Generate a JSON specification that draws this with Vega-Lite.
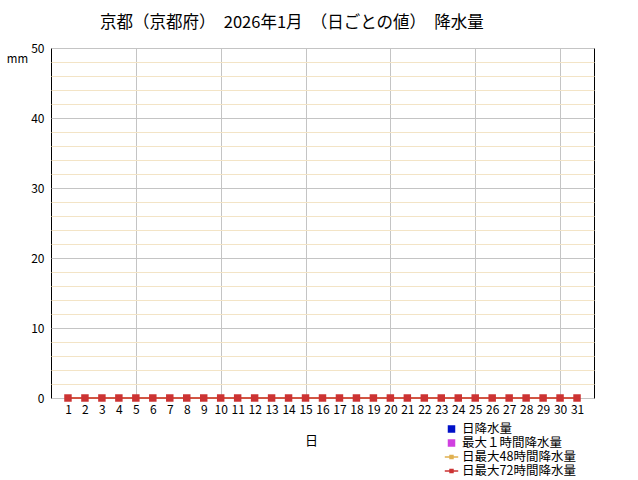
{
  "$schema": "https://vega.github.io/schema/vega-lite/v6.json",
  "width": 543,
  "height": 350,
  "autosize": {"type": "none"},
  "padding": {"left": 51, "top": 48, "right": 44, "bottom": 82},
  "background": "white",
  "config": {
    "font": "Noto Sans CJK JP",
    "view": {"stroke": "black", "strokeWidth": 1},
    "axis": {
      "labelFont": "Noto Sans CJK JP",
      "labelFontSize": 12,
      "labelColor": "black",
      "titleFont": "Noto Sans CJK JP",
      "titleFontSize": 13,
      "titleFontWeight": "normal",
      "titleColor": "black",
      "ticks": false,
      "domain": false
    }
  },
  "title": {
    "text": "京都（京都府）　2026年1月　（日ごとの値）　降水量",
    "frame": "group",
    "anchor": "start",
    "dx": 49,
    "offset": 11,
    "fontSize": 16.5,
    "fontWeight": "normal",
    "font": "Noto Sans CJK JP",
    "color": "black"
  },
  "data": {
    "values": [
      {"day": 1, "series": "日降水量", "value": 0}, {"day": 1, "series": "最大１時間降水量", "value": 0}, {"day": 1, "series": "日最大48時間降水量", "value": 0}, {"day": 1, "series": "日最大72時間降水量", "value": 0},
      {"day": 2, "series": "日降水量", "value": 0}, {"day": 2, "series": "最大１時間降水量", "value": 0}, {"day": 2, "series": "日最大48時間降水量", "value": 0}, {"day": 2, "series": "日最大72時間降水量", "value": 0},
      {"day": 3, "series": "日降水量", "value": 0}, {"day": 3, "series": "最大１時間降水量", "value": 0}, {"day": 3, "series": "日最大48時間降水量", "value": 0}, {"day": 3, "series": "日最大72時間降水量", "value": 0},
      {"day": 4, "series": "日降水量", "value": 0}, {"day": 4, "series": "最大１時間降水量", "value": 0}, {"day": 4, "series": "日最大48時間降水量", "value": 0}, {"day": 4, "series": "日最大72時間降水量", "value": 0},
      {"day": 5, "series": "日降水量", "value": 0}, {"day": 5, "series": "最大１時間降水量", "value": 0}, {"day": 5, "series": "日最大48時間降水量", "value": 0}, {"day": 5, "series": "日最大72時間降水量", "value": 0},
      {"day": 6, "series": "日降水量", "value": 0}, {"day": 6, "series": "最大１時間降水量", "value": 0}, {"day": 6, "series": "日最大48時間降水量", "value": 0}, {"day": 6, "series": "日最大72時間降水量", "value": 0},
      {"day": 7, "series": "日降水量", "value": 0}, {"day": 7, "series": "最大１時間降水量", "value": 0}, {"day": 7, "series": "日最大48時間降水量", "value": 0}, {"day": 7, "series": "日最大72時間降水量", "value": 0},
      {"day": 8, "series": "日降水量", "value": 0}, {"day": 8, "series": "最大１時間降水量", "value": 0}, {"day": 8, "series": "日最大48時間降水量", "value": 0}, {"day": 8, "series": "日最大72時間降水量", "value": 0},
      {"day": 9, "series": "日降水量", "value": 0}, {"day": 9, "series": "最大１時間降水量", "value": 0}, {"day": 9, "series": "日最大48時間降水量", "value": 0}, {"day": 9, "series": "日最大72時間降水量", "value": 0},
      {"day": 10, "series": "日降水量", "value": 0}, {"day": 10, "series": "最大１時間降水量", "value": 0}, {"day": 10, "series": "日最大48時間降水量", "value": 0}, {"day": 10, "series": "日最大72時間降水量", "value": 0},
      {"day": 11, "series": "日降水量", "value": 0}, {"day": 11, "series": "最大１時間降水量", "value": 0}, {"day": 11, "series": "日最大48時間降水量", "value": 0}, {"day": 11, "series": "日最大72時間降水量", "value": 0},
      {"day": 12, "series": "日降水量", "value": 0}, {"day": 12, "series": "最大１時間降水量", "value": 0}, {"day": 12, "series": "日最大48時間降水量", "value": 0}, {"day": 12, "series": "日最大72時間降水量", "value": 0},
      {"day": 13, "series": "日降水量", "value": 0}, {"day": 13, "series": "最大１時間降水量", "value": 0}, {"day": 13, "series": "日最大48時間降水量", "value": 0}, {"day": 13, "series": "日最大72時間降水量", "value": 0},
      {"day": 14, "series": "日降水量", "value": 0}, {"day": 14, "series": "最大１時間降水量", "value": 0}, {"day": 14, "series": "日最大48時間降水量", "value": 0}, {"day": 14, "series": "日最大72時間降水量", "value": 0},
      {"day": 15, "series": "日降水量", "value": 0}, {"day": 15, "series": "最大１時間降水量", "value": 0}, {"day": 15, "series": "日最大48時間降水量", "value": 0}, {"day": 15, "series": "日最大72時間降水量", "value": 0},
      {"day": 16, "series": "日降水量", "value": 0}, {"day": 16, "series": "最大１時間降水量", "value": 0}, {"day": 16, "series": "日最大48時間降水量", "value": 0}, {"day": 16, "series": "日最大72時間降水量", "value": 0},
      {"day": 17, "series": "日降水量", "value": 0}, {"day": 17, "series": "最大１時間降水量", "value": 0}, {"day": 17, "series": "日最大48時間降水量", "value": 0}, {"day": 17, "series": "日最大72時間降水量", "value": 0},
      {"day": 18, "series": "日降水量", "value": 0}, {"day": 18, "series": "最大１時間降水量", "value": 0}, {"day": 18, "series": "日最大48時間降水量", "value": 0}, {"day": 18, "series": "日最大72時間降水量", "value": 0},
      {"day": 19, "series": "日降水量", "value": 0}, {"day": 19, "series": "最大１時間降水量", "value": 0}, {"day": 19, "series": "日最大48時間降水量", "value": 0}, {"day": 19, "series": "日最大72時間降水量", "value": 0},
      {"day": 20, "series": "日降水量", "value": 0}, {"day": 20, "series": "最大１時間降水量", "value": 0}, {"day": 20, "series": "日最大48時間降水量", "value": 0}, {"day": 20, "series": "日最大72時間降水量", "value": 0},
      {"day": 21, "series": "日降水量", "value": 0}, {"day": 21, "series": "最大１時間降水量", "value": 0}, {"day": 21, "series": "日最大48時間降水量", "value": 0}, {"day": 21, "series": "日最大72時間降水量", "value": 0},
      {"day": 22, "series": "日降水量", "value": 0}, {"day": 22, "series": "最大１時間降水量", "value": 0}, {"day": 22, "series": "日最大48時間降水量", "value": 0}, {"day": 22, "series": "日最大72時間降水量", "value": 0},
      {"day": 23, "series": "日降水量", "value": 0}, {"day": 23, "series": "最大１時間降水量", "value": 0}, {"day": 23, "series": "日最大48時間降水量", "value": 0}, {"day": 23, "series": "日最大72時間降水量", "value": 0},
      {"day": 24, "series": "日降水量", "value": 0}, {"day": 24, "series": "最大１時間降水量", "value": 0}, {"day": 24, "series": "日最大48時間降水量", "value": 0}, {"day": 24, "series": "日最大72時間降水量", "value": 0},
      {"day": 25, "series": "日降水量", "value": 0}, {"day": 25, "series": "最大１時間降水量", "value": 0}, {"day": 25, "series": "日最大48時間降水量", "value": 0}, {"day": 25, "series": "日最大72時間降水量", "value": 0},
      {"day": 26, "series": "日降水量", "value": 0}, {"day": 26, "series": "最大１時間降水量", "value": 0}, {"day": 26, "series": "日最大48時間降水量", "value": 0}, {"day": 26, "series": "日最大72時間降水量", "value": 0},
      {"day": 27, "series": "日降水量", "value": 0}, {"day": 27, "series": "最大１時間降水量", "value": 0}, {"day": 27, "series": "日最大48時間降水量", "value": 0}, {"day": 27, "series": "日最大72時間降水量", "value": 0},
      {"day": 28, "series": "日降水量", "value": 0}, {"day": 28, "series": "最大１時間降水量", "value": 0}, {"day": 28, "series": "日最大48時間降水量", "value": 0}, {"day": 28, "series": "日最大72時間降水量", "value": 0},
      {"day": 29, "series": "日降水量", "value": 0}, {"day": 29, "series": "最大１時間降水量", "value": 0}, {"day": 29, "series": "日最大48時間降水量", "value": 0}, {"day": 29, "series": "日最大72時間降水量", "value": 0},
      {"day": 30, "series": "日降水量", "value": 0}, {"day": 30, "series": "最大１時間降水量", "value": 0}, {"day": 30, "series": "日最大48時間降水量", "value": 0}, {"day": 30, "series": "日最大72時間降水量", "value": 0},
      {"day": 31, "series": "日降水量", "value": 0}, {"day": 31, "series": "最大１時間降水量", "value": 0}, {"day": 31, "series": "日最大48時間降水量", "value": 0}, {"day": 31, "series": "日最大72時間降水量", "value": 0}
    ]
  },
  "encoding": {
    "x": {
      "field": "day",
      "type": "quantitative",
      "scale": {"domain": [0, 32], "nice": false, "zero": false, "padding": 0},
      "axis": {
        "title": "日",
        "values": [1, 2, 3, 4, 5, 6, 7, 8, 9, 10, 11, 12, 13, 14, 15, 16, 17, 18, 19, 20, 21, 22, 23, 24, 25, 26, 27, 28, 29, 30, 31],
        "labelOverlap": false,
        "labelFlush": false,
        "labelPadding": 6,
        "grid": true,
        "gridColor": "#c4c4c4",
        "gridOpacity": {"condition": {"test": "datum.value % 5 === 0", "value": 1}, "value": 0},
        "titleX": 260,
        "titleY": 42,
        "titleAnchor": "start",
        "titleAlign": "center",
        "titleBaseline": "middle"
      }
    },
    "y": {
      "field": "value",
      "type": "quantitative",
      "scale": {"domain": [0, 50], "nice": false},
      "axis": {
        "title": "mm",
        "titleAngle": 0,
        "titleX": -34,
        "titleY": 11,
        "titleAlign": "center",
        "titleBaseline": "middle",
        "titleFontSize": 11.5,
        "values": [0, 2, 4, 6, 8, 10, 12, 14, 16, 18, 20, 22, 24, 26, 28, 30, 32, 34, 36, 38, 40, 42, 44, 46, 48, 50],
        "labelExpr": "datum.value % 10 === 0 ? datum.label : ''",
        "labelPadding": 7,
        "grid": true,
        "gridColor": {"condition": {"test": "datum.value % 10 === 0", "value": "#c4c4c4"}, "value": "#f3e4c6"}
      }
    },
    "color": {
      "field": "series",
      "type": "nominal",
      "scale": {
        "domain": ["日降水量", "最大１時間降水量", "日最大48時間降水量", "日最大72時間降水量"],
        "range": ["#0010c8", "#d040e0", "#e0b050", "#cc3333"]
      },
      "legend": {
        "title": null,
        "orient": "none",
        "legendX": 393,
        "legendY": 374,
        "labelFont": "Noto Sans CJK JP",
        "labelFontSize": 12.5,
        "labelColor": "black",
        "labelOffset": 3,
        "rowPadding": 0,
        "clipHeight": 14,
        "symbolOpacity": 1,
        "encode": {
          "symbols": {
            "update": {
              "shape": {"signal": "indexof(['日降水量', '最大１時間降水量'], datum.value) >= 0 ? 'square' : 'M-1,0L1,0M-0.22,-0.22L0.22,-0.22L0.22,0.22L-0.22,0.22Z'"},
              "size": {"signal": "indexof(['日降水量', '最大１時間降水量'], datum.value) >= 0 ? 36 : 180"},
              "fill": {"signal": "scale('color', datum.value)"},
              "stroke": {"signal": "scale('color', datum.value)"},
              "strokeWidth": {"value": 1.5},
              "opacity": {"value": 1}
            }
          }
        }
      }
    }
  },
  "layer": [
    {
      "transform": [{"filter": "indexof(['日降水量', '最大１時間降水量'], datum.series) >= 0"}],
      "mark": {"type": "bar", "width": 6}
    },
    {
      "transform": [{"filter": "datum.series === '日最大48時間降水量'"}],
      "mark": {"type": "line", "strokeWidth": 1.5, "point": {"filled": true, "size": 12}}
    },
    {
      "transform": [{"filter": "datum.series === '日最大72時間降水量'"}],
      "mark": {"type": "line", "strokeWidth": 1.5, "point": {"filled": true, "shape": "square", "size": 56, "opacity": 1}}
    }
  ]
}
